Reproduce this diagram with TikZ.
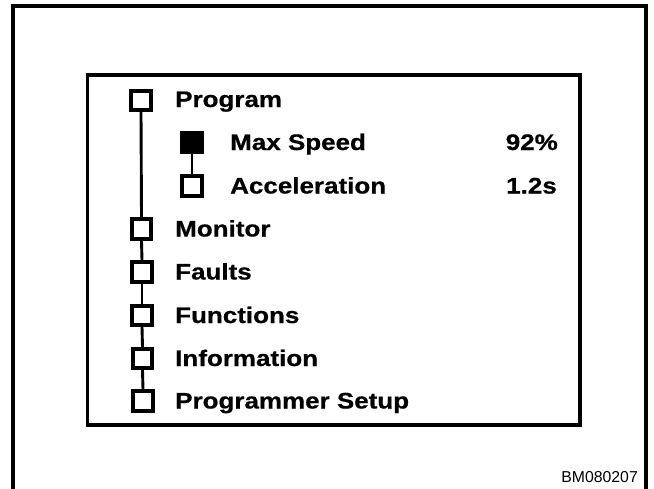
\documentclass[tikz,border=0pt]{standalone}
\usepackage{fontspec}
\setmainfont{Liberation Sans}
\newfontfamily\lblfont{Liberation Sans Bold}[FakeStretch=1.155,FakeBold=0.6]
\begin{document}
\begin{tikzpicture}[x=1pt,y=-1pt,
  frame/.style={line width=3.8pt},
  menubox/.style={draw,line width=3.8pt,minimum size=19.3pt,inner sep=0pt,fill=white},
  selbox/.style={menubox,fill=black},
  link/.style={line width=2.9pt},
  lbl/.style={anchor=base west,inner sep=0pt,font=\lblfont\fontsize{22.5}{26}\selectfont},
  val/.style={anchor=base east,inner sep=0pt,font=\lblfont\fontsize{22.5}{26}\selectfont},
  code/.style={anchor=base east,inner sep=0pt,font=\fontsize{15.8}{18}\selectfont}]
\clip (0,0) rectangle (654,488);
\fill[white] (0,0) rectangle (654,488);
% frames
\draw[frame] (13,495) -- (13,5.7) -- (646,5.7) -- (646,495);
\draw[frame] (87.5,75.3) rectangle (579.7,424.7);
% boxes
\node[menubox] (b1) at (141,100.5) {};
\node[selbox]  (b2) at (192,142.5) {};
\node[menubox] (b3) at (192,186) {};
\node[menubox] (b4) at (141.5,229) {};
\node[menubox] (b5) at (142,272) {};
\node[menubox] (b6) at (142,315.5) {};
\node[menubox] (b7) at (142.5,358.5) {};
\node[menubox] (b8) at (143,401) {};
% connectors
\draw[link] (b1.south) -- (b4.north);
\draw[link] (b4.south) -- (b5.north);
\draw[link] (b5.south) -- (b6.north);
\draw[link] (b6.south) -- (b7.north);
\draw[link] (b7.south) -- (b8.north);
\draw[link] (b2.south) -- (b3.north);
% labels
\node[lbl] (t1) at (175,107) {Program};
\node[lbl] (t2) at (230,150) {Max Speed};
\node[lbl] (t3) at (230,193.5) {Acceleration};
\node[lbl] (t4) at (175,236.5) {Monitor};
\node[lbl] (t5) at (175,279.5) {Faults};
\node[lbl] (t6) at (175,323) {Functions};
\node[lbl] (t7) at (175,366) {Information};
\node[lbl] (t8) at (175,408.5) {Programmer Setup};
\node[val] (v1) at (558,150) {92\%};
\node[val] (v2) at (557,193.5) {1.2s};
\node[code] (c) at (638,482) {BM080207};
\end{tikzpicture}
\end{document}
